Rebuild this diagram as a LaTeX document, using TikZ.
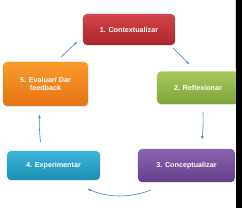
\documentclass[tikz,border=0pt]{standalone}
\usepackage{fontspec}
\setmainfont{Liberation Sans}
\usetikzlibrary{arrows.meta,shadows}
\definecolor{redT}{HTML}{D4444A}
\definecolor{redB}{HTML}{A9262D}
\definecolor{grnT}{HTML}{A9C85C}
\definecolor{grnB}{HTML}{7EA43A}
\definecolor{purT}{HTML}{8A62AE}
\definecolor{purB}{HTML}{63408A}
\definecolor{bluT}{HTML}{3BB5D8}
\definecolor{bluB}{HTML}{1E8DB2}
\definecolor{orgT}{HTML}{F99A2C}
\definecolor{orgB}{HTML}{E57414}
\definecolor{arr}{HTML}{3C7FD0}
\begin{document}
\begin{tikzpicture}[x=1pt,y=-1pt,
  stagebox/.style={rectangle, rounded corners=4pt, draw=none, text=white,
    font=\bfseries\fontsize{7.2}{8}\selectfont, align=center, inner sep=0pt,
    drop shadow={opacity=0.2, shadow xshift=0.6pt, shadow yshift=-1pt}},
  conn/.style={draw=arr, line width=0.6pt, -{Stealth[length=3.2pt,width=2.8pt]}}]
\useasboundingbox (0,0) rectangle (242,208);
\fill[white] (0,0) rectangle (242,208);
\node[stagebox, top color=redT, bottom color=redB, minimum width=92pt, minimum height=31pt] (n1) at (129,29.5) {1. Contextualizar};
\node[stagebox, top color=grnT, bottom color=grnB, minimum width=82pt, minimum height=32.5pt] (n2) at (198,87.75) {2. Reflexionar};
\node[stagebox, top color=purT, bottom color=purB, minimum width=97pt, minimum height=33pt] (n3) at (186.5,165.5) {3. Conceptualizar};
\node[stagebox, top color=bluT, bottom color=bluB, minimum width=93pt, minimum height=29pt] (n4) at (53.5,165.5) {4. Experimentar};
\node[stagebox, top color=orgT, bottom color=orgB, minimum width=85pt, minimum height=44pt] (n5) at (45.5,84) {5. Evaluar/ Dar\\feedback};
\coordinate (a1s) at (173,48);
\coordinate (a1e) at (189,64);
\coordinate (a2s) at (203,112);
\coordinate (a2e) at (202,139);
\coordinate (a3s) at (151,190);
\coordinate (a3e) at (88,189);
\coordinate (a4s) at (40.5,142);
\coordinate (a4e) at (39.5,115);
\coordinate (a5s) at (61,57);
\coordinate (a5e) at (77,42);
\draw[conn] (a1s) -- (a1e);
\draw[conn] (a2s) .. controls (203.5,122) and (203,130) .. (a2e);
\draw[conn] (a3s) .. controls (130,198) and (108,198) .. (a3e);
\draw[conn] (a4s) .. controls (39.5,132) and (39,124) .. (a4e);
\draw[conn] (a5s) -- (a5e);
\draw[gray!30, line width=0.5pt] (235,0) -- (235,68);
\fill[black] (236,0) rectangle (242,208);
\end{tikzpicture}
\end{document}
